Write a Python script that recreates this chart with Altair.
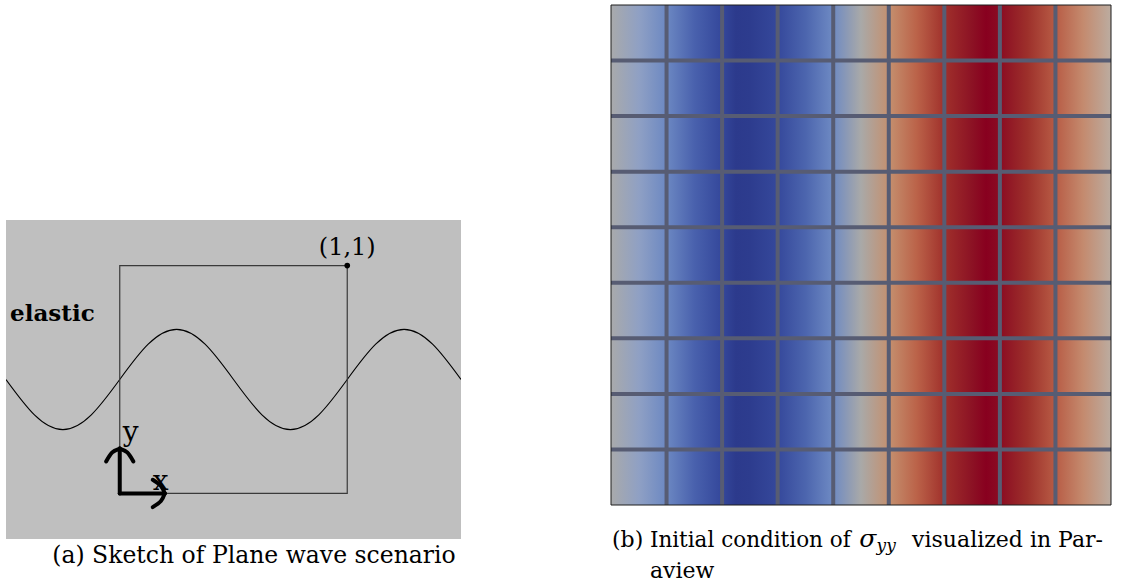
import altair as alt
import pandas as pd

FONT = "DejaVu Serif"

# ---------------- (a) sketch of the plane wave scenario ----------------
AREA_X = [-0.5, 1.5]          # extent of the grey elastic medium
AREA_Y = [-0.2, 1.2]
SQUARE_X = [0.0, 1.0]         # unit square domain
SQUARE_Y = [0.0, 1.0]
WAVE_X = [-0.5, -0.375, -0.25, -0.125, 0.0, 0.125, 0.25, 0.375, 0.5,
          0.625, 0.75, 0.875, 1.0, 1.125, 1.25, 1.375, 1.5]
WAVE_Y = [0.50, 0.345, 0.28, 0.345, 0.50, 0.655, 0.72, 0.655, 0.50,
          0.345, 0.28, 0.345, 0.50, 0.655, 0.72, 0.655, 0.50]
CORNER_X = [1.0]
CORNER_Y = [1.0]
SHAFT_X0 = [0.0, 0.0]
SHAFT_Y0 = [0.0, 0.0]
SHAFT_X1 = [0.0, 0.198]
SHAFT_Y1 = [0.197, 0.0]
HEAD_ID = ["up-l"] * 3 + ["up-r"] * 3 + ["rt-u"] * 3 + ["rt-d"] * 3
HEAD_ORDER = [0, 1, 2] * 4
HEAD_X = [0.0, -0.033, -0.06, 0.0, 0.033, 0.06, 0.198, 0.181, 0.145, 0.198, 0.181, 0.145]
HEAD_Y = [0.197, 0.18, 0.14, 0.197, 0.18, 0.14, 0.0, 0.033, 0.06, 0.0, -0.033, -0.06]

# ---------------- (b) sigma_yy initial condition ----------------
N_CELLS = 9
GRID_LINES = [1, 2, 3, 4, 5, 6, 7, 8]
STOP_OFFSETS = [0.0, 0.056, 0.111, 0.167, 0.222, 0.25, 0.278, 0.333, 0.389, 0.444,
                0.5, 0.556, 0.611, 0.667, 0.722, 0.75, 0.778, 0.833, 0.889, 0.944, 1.0]
STOP_COLORS = ["#a9aaab", "#8fa0c4", "#6c88c2", "#4961ad", "#34479b", "#2c3a8c", "#2d3c8e",
               "#35489b", "#4c65ae", "#6e8ac3", "#a9a9a8", "#c4906f", "#bb6349", "#a0302b",
               "#8c1224", "#88001f", "#8b0c22", "#9d302b", "#b85c45", "#c48a6e", "#bcaca0"]


def sx(field):
    return alt.X(field, type="quantitative",
                 scale=alt.Scale(domain=AREA_X, nice=False, zero=False), axis=None)


def sy(field):
    return alt.Y(field, type="quantitative",
                 scale=alt.Scale(domain=AREA_Y, range=[534, 215], nice=False, zero=False),
                 axis=None)


def hx(field):
    return alt.X(field, type="quantitative",
                 scale=alt.Scale(domain=[0, N_CELLS], nice=False, zero=False), axis=None)


def hy(field):
    return alt.Y(field, type="quantitative",
                 scale=alt.Scale(domain=[0, N_CELLS], nice=False, zero=False), axis=None)


area_df = pd.DataFrame({"x0": [AREA_X[0]], "x1": [AREA_X[1]], "y0": [AREA_Y[0]], "y1": [AREA_Y[1]]})
square_df = pd.DataFrame({"x0": [SQUARE_X[0]], "x1": [SQUARE_X[1]], "y0": [SQUARE_Y[0]], "y1": [SQUARE_Y[1]]})
wave_df = pd.DataFrame({"x": WAVE_X, "y": WAVE_Y, "i": list(range(len(WAVE_X)))})
corner_df = pd.DataFrame({"x": CORNER_X, "y": CORNER_Y})
shaft_df = pd.DataFrame({"x0": SHAFT_X0, "y0": SHAFT_Y0, "x1": SHAFT_X1, "y1": SHAFT_Y1})
head_df = pd.DataFrame({"id": HEAD_ID, "o": HEAD_ORDER, "x": HEAD_X, "y": HEAD_Y})

bg = alt.Chart(area_df).mark_rect(fill="#bfbfbf").encode(
    x=sx("x0"), x2="x1", y=sy("y0"), y2="y1")
square = alt.Chart(square_df).mark_rect(fillOpacity=0, stroke="#3a3a3a", strokeWidth=1.2).encode(
    x=sx("x0"), x2="x1", y=sy("y0"), y2="y1")
wave = alt.Chart(wave_df).mark_line(color="black", strokeWidth=1.1, interpolate="natural", clip=True).encode(
    x=sx("x"), y=sy("y"), order="i:Q")
corner = alt.Chart(corner_df).mark_point(filled=True, color="black", size=32, opacity=1).encode(
    x=sx("x"), y=sy("y"))
shafts = alt.Chart(shaft_df).mark_rule(color="black", strokeWidth=4, strokeCap="round").encode(
    x=sx("x0"), y=sy("y0"), x2="x1", y2="y1")
heads = alt.Chart(head_df).mark_line(color="black", strokeWidth=4, strokeCap="round",
                                     interpolate="natural").encode(
    x=sx("x"), y=sy("y"), detail="id:N", order="o:Q")


def label(text, x, y, size, align="left", weight="normal", dy=0, style="normal"):
    return alt.Chart(pd.DataFrame({"t": [text], "x": [x], "y": [y]})).mark_text(
        font=FONT, fontSize=size, align=align, fontWeight=weight, dy=dy, fontStyle=style,
        baseline="alphabetic", color="black")


lab_11 = label("(1,1)", 1.0, 1.0, 24, align="center", dy=-11).encode(x=sx("x"), y=sy("y"), text="t:N")
lab_el = label("elastic", -0.482, 0.755, 23, weight="bold").encode(x=sx("x"), y=sy("y"), text="t:N")
lab_y = label("y", 0.013, 0.232, 28).encode(x=sx("x"), y=sy("y"), text="t:N")
lab_x = label("x", 0.145, 0.013, 28).encode(x=sx("x"), y=sy("y"), text="t:N")
cap_a = label("(a) Sketch of Plane wave scenario", 0.59, -0.305, 23.5, align="center").encode(
    x=sx("x"), y=sy("y"), text="t:N")

left = alt.layer(bg, wave, square, shafts, heads, corner, lab_11, lab_el, lab_y, lab_x, cap_a).properties(
    width=455, height=534)

# right panel
field_df = pd.DataFrame({"x0": [0], "x1": [N_CELLS], "y0": [0], "y1": [N_CELLS]})
grid_df = pd.DataFrame({"g": GRID_LINES})

gradient = alt.Gradient(
    gradient="linear",
    stops=[alt.GradientStop(offset=o, color=c) for o, c in zip(STOP_OFFSETS, STOP_COLORS)],
    x1=0, x2=1, y1=0, y2=0)

field = alt.Chart(field_df).mark_rect(fill=gradient).encode(
    x=hx("x0"), x2="x1", y=hy("y0"), y2="y1")
vlines = alt.Chart(grid_df).mark_rule(color="#575c73", strokeWidth=4).encode(x=hx("g"))
hlines = alt.Chart(grid_df).mark_rule(color="#575c73", strokeWidth=4).encode(y=hy("g"))
border = alt.Chart(field_df).mark_rect(fillOpacity=0, stroke="#1e1e1e", strokeWidth=1).encode(
    x=hx("x0"), x2="x1", y=hy("y0"), y2="y1")

cap_b1 = label("(b)", 0.018, -0.755, 22).encode(x=hx("x"), y=hy("y"), text="t:N")
cap_b2 = label("Initial condition of", 0.70, -0.755, 21.5).encode(x=hx("x"), y=hy("y"), text="t:N")
cap_b3 = label("σ", 4.47, -0.755, 25, style="italic").encode(x=hx("x"), y=hy("y"), text="t:N")
cap_b4 = label("yy", 4.78, -0.835, 17, style="italic").encode(x=hx("x"), y=hy("y"), text="t:N")
cap_b5 = label("visualized in Par-", 5.42, -0.755, 22).encode(x=hx("x"), y=hy("y"), text="t:N")
cap_b6 = label("aview", 0.70, -1.313, 22).encode(x=hx("x"), y=hy("y"), text="t:N")

right = alt.layer(field, vlines, hlines, border, cap_b1, cap_b2, cap_b3, cap_b4, cap_b5, cap_b6).properties(
    width=500, height=500)

chart = alt.hconcat(left, right, spacing=150, bounds="flush").properties(
    padding={"left": 6, "top": 3, "right": 0, "bottom": 0},
    background="white",
).configure_view(strokeWidth=0)

chart.save("out.html", embed_options={"renderer": "svg", "actions": False})
